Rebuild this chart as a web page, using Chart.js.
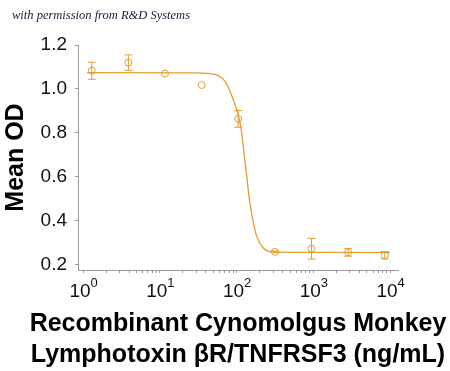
<!DOCTYPE html>
<html>
<head>
<meta charset="utf-8">
<script src="https://cdn.jsdelivr.net/npm/chart.js@4/dist/chart.umd.min.js"></script>
<style>
  html, body { margin: 0; padding: 0; background: #fff; }
  canvas { display: block; }
</style>
</head>
<body>
<canvas id="odChart" width="450" height="371"></canvas>
<script>
// measured points (concentration in ng/mL, mean OD, +/- error)
const concentrations = [1.3, 3.9, 11.7, 35.1, 105, 316, 948, 2843, 8530];
const meanOD = [1.083, 1.120, 1.070, 1.018, 0.864, 0.260, 0.274, 0.257, 0.244];
const errorOD = [0.039, 0.035, 0, 0, 0.038, 0.004, 0.047, 0.017, 0.017];

// fitted curve
const fitX = [1.13, 24.8, 45.2, 61, 70.8, 80.6, 90.8, 100.6, 109, 117, 125, 136, 147, 163, 183, 223, 302, 672, 10000];
const fitY = [1.074, 1.073, 1.070, 1.057, 1.035, 0.997, 0.951, 0.906, 0.859, 0.800, 0.709, 0.603, 0.497, 0.406, 0.330, 0.277, 0.259, 0.257, 0.256];

// axis ticks
const xMajorTicks = [1, 10, 100, 1000, 10000];
const xTickExponents = ['0', '1', '2', '3', '4'];
const xMinorSteps = [2, 3, 4, 5, 6, 7, 8, 9];
const yTicks = [0.2, 0.4, 0.6, 0.8, 1.0, 1.2];
const xTitleLines = ['Recombinant Cynomolgus Monkey', 'Lymphotoxin \u03B2R/TNFRSF3 (ng/mL)'];

const orange = '#E29E32';
const axisGray = '#9a9a9a';
const fontFamily = "'Liberation Sans', Arial, sans-serif";

// error bars with caps
const errorBars = {
  id: 'errorBars',
  afterDatasetsDraw(chart) {
    const ctx = chart.ctx;
    const x = chart.scales.x, y = chart.scales.y;
    ctx.save();
    ctx.strokeStyle = orange;
    ctx.lineWidth = 1;
    concentrations.forEach((c, i) => {
      if (!errorOD[i]) return;
      const px = x.getPixelForValue(c);
      const top = y.getPixelForValue(meanOD[i] + errorOD[i]);
      const bot = y.getPixelForValue(meanOD[i] - errorOD[i]);
      ctx.beginPath();
      ctx.moveTo(px, top); ctx.lineTo(px, bot);
      ctx.moveTo(px - 4, top); ctx.lineTo(px + 4, top);
      ctx.moveTo(px - 4, bot); ctx.lineTo(px + 4, bot);
      ctx.stroke();
    });
    ctx.restore();
  }
};

// 10^n labels, x title (Chart.js squeezes it to the axis width) and watermark
const extraText = {
  id: 'extraText',
  afterDraw(chart) {
    const ctx = chart.ctx;
    const x = chart.scales.x;
    ctx.save();
    ctx.fillStyle = '#111';
    xMajorTicks.forEach((v, i) => {
      const px = x.getPixelForValue(v);
      ctx.font = '19px ' + fontFamily;
      ctx.textAlign = 'center';
      ctx.textBaseline = 'middle';
      ctx.fillText('10', px - 3, 292);
      const w = ctx.measureText('10').width;
      ctx.font = '13px ' + fontFamily;
      ctx.textAlign = 'left';
      ctx.fillText(xTickExponents[i], px - 3 + w / 2, 283);
    });

    const cx = (chart.chartArea.left + chart.chartArea.right) / 2;
    ctx.fillStyle = '#000';
    ctx.font = 'bold 25px ' + fontFamily;
    ctx.textAlign = 'center';
    ctx.textBaseline = 'middle';
    ctx.fillText(xTitleLines[0], cx, 324);
    ctx.fillText(xTitleLines[1], cx, 355.5);

    ctx.font = "italic 12.5px 'Liberation Serif', 'DejaVu Serif', serif";
    ctx.fillStyle = '#1b1b3b';
    ctx.textAlign = 'left';
    ctx.fillText('with permission from R&D Systems', 12, 16);
    ctx.restore();
  }
};

const ctx = document.getElementById('odChart').getContext('2d');
new Chart(ctx, {
  type: 'scatter',
  data: {
    datasets: [
      {
        label: 'fit',
        data: fitX.map((v, i) => ({ x: v, y: fitY[i] })),
        showLine: true,
        borderColor: orange,
        borderWidth: 1.3,
        pointRadius: 0,
        cubicInterpolationMode: 'monotone',
      },
      {
        label: 'Mean OD',
        data: concentrations.map((v, i) => ({ x: v, y: meanOD[i] })),
        pointStyle: 'circle',
        pointRadius: 3.5,
        borderWidth: 1,
        borderColor: orange,
        backgroundColor: 'rgba(0,0,0,0)',
      },
    ],
  },
  options: {
    responsive: false,
    animation: false,
    devicePixelRatio: 1,
    layout: { padding: { top: 45, right: 52, left: 0, bottom: 0 } },
    plugins: {
      legend: { display: false },
      tooltip: { enabled: false },
    },
    scales: {
      x: {
        type: 'logarithmic',
        min: 0.86,
        max: 12700,
        afterBuildTicks: (scale) => {
          const ticks = [];
          xMajorTicks.forEach((m, i) => {
            ticks.push({ value: m });
            if (i < xMajorTicks.length - 1) {
              xMinorSteps.forEach(s => ticks.push({ value: m * s }));
            }
          });
          scale.ticks = ticks;
        },
        afterFit: (scale) => { scale.height = 101; },
        ticks: { callback: () => '', autoSkip: false },
        grid: { drawOnChartArea: false, tickLength: 3, color: axisGray },
        border: { display: true, color: axisGray, width: 1 },
      },
      y: {
        min: 0.177,
        max: 1.2,
        afterBuildTicks: (scale) => {
          scale.ticks = yTicks.map(v => ({ value: v }));
        },
        afterFit: (scale) => { scale.width = 78; },
        ticks: {
          color: '#111',
          padding: 8,
          font: { family: fontFamily, size: 19 },
          callback: (v) => v.toFixed(1),
        },
        grid: { drawOnChartArea: false, tickLength: 3, color: axisGray },
        border: { display: true, color: axisGray, width: 1 },
        title: {
          display: true,
          text: 'Mean OD',
          color: '#000',
          font: { family: fontFamily, size: 25, weight: 'bold' },
          padding: { top: 1, bottom: 0 },
        },
      },
    },
  },
  plugins: [errorBars, extraText],
});
</script>
</body>
</html>
